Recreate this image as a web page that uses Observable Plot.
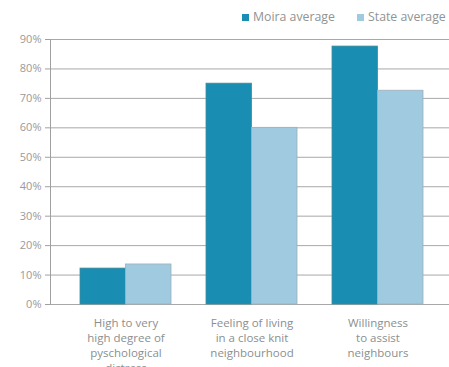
<!DOCTYPE html>
<html>
<head>
<meta charset="utf-8">
<script src="https://cdn.jsdelivr.net/npm/d3@7"></script>
<script src="https://cdn.jsdelivr.net/npm/@observablehq/plot@0.6"></script>
<style>
  html, body { margin: 0; padding: 0; background: #fff; overflow: hidden; }
  #wrap { position: relative; width: 449px; height: 367px; font-family: "Open Sans", sans-serif; }
  #legend { position: absolute; left: 0; top: 8px; width: 449px; height: 20px; font-size: 12.3px; color: #8f9494; white-space: nowrap; overflow: hidden; }
  .item { position: absolute; top: 0; line-height: 18px; }
  .sw { display: inline-block; width: 7px; height: 7px; margin-right: 4px; vertical-align: 0px; }
</style>
</head>
<body>
<div id="wrap">
  <div id="chart"></div>
  <div id="legend"></div>
</div>
<script>
const categories = [
  "High to very\nhigh degree of\npyschological\ndistress",
  "Feeling of living\nin a close knit\nneighbourhood",
  "Willingness\nto assist\nneighbours"
];
const seriesNames = ["Moira average", "State average"];
const moira = [12.2, 75, 87.6];
const state = [13.6, 60, 72.6];
const yTicks = [0, 10, 20, 30, 40, 50, 60, 70, 80, 90];
const colors = ["#1a8db2", "#9fcae0"];

const moiraRows = categories.map((c, i) => ({category: c, value: moira[i]}));
const stateRows = categories.map((c, i) => ({category: c, value: state[i]}));

const chart = Plot.plot({
  width: 449,
  height: 367,
  marginTop: 39,
  marginBottom: 63,
  marginLeft: 50,
  marginRight: 0,
  style: {fontFamily: "Open Sans, sans-serif", background: "#fff"},
  x: {domain: categories, range: [50, 453], paddingInner: 0.28, paddingOuter: 0.23, label: null},
  y: {domain: [0, 90], label: null},
  marks: [
    Plot.ruleY(yTicks, {stroke: "#a8a8a8", strokeWidth: 1}),
    Plot.barY(moiraRows, {x: "category", y: "value", fill: colors[0], stroke: "#3f8d9c", strokeWidth: 0.8, insetRight: 45.5}),
    Plot.barY(stateRows, {x: "category", y: "value", fill: colors[1], stroke: "#9fb0ba", strokeWidth: 0.8, insetLeft: 45.5}),
    Plot.axisY({ticks: yTicks, tickFormat: d => d + "%", tickSize: 5, tickPadding: 4, stroke: "#a0a0a0", fill: "#9a9a9a", fontSize: 11, label: null}),
    Plot.frame({anchor: "left", stroke: "#a0a0a0"}),
    Plot.axisX({tickSize: 0, tickPadding: 12, fill: "#8a9090", fontSize: 11.5, lineHeight: 1.3, label: null, style: {letterSpacing: "-0.2px"}})
  ]
});
document.getElementById("chart").appendChild(chart);

const legend = document.getElementById("legend");
const lefts = [242, 357];
seriesNames.forEach((name, i) => {
  const it = document.createElement("div");
  it.className = "item";
  it.style.left = lefts[i] + "px";
  const sw = document.createElement("span");
  sw.className = "sw";
  sw.style.background = colors[i];
  it.appendChild(sw);
  it.appendChild(document.createTextNode(name));
  legend.appendChild(it);
});
</script>
</body>
</html>
